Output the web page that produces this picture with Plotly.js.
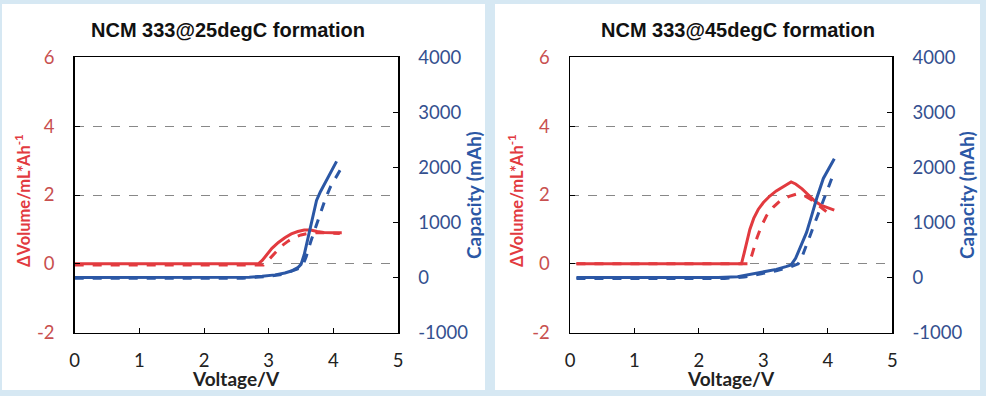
<!DOCTYPE html>
<html>
<head>
<meta charset="utf-8">
<script src="https://cdn.plot.ly/plotly-3.0.1.min.js"></script>
<style>html,body{margin:0;padding:0;background:#d6e8f3;}</style>
</head>
<body>
<div id="chart" style="width:986px;height:396px;"></div>
<script>
// ---- Data ----
const panelTitles = ["NCM 333@25degC formation", "NCM 333@45degC formation"];
const xTickVals = [0, 1, 2, 3, 4, 5];
const yLeftTickVals = [-2, 0, 2, 4, 6];
const yLeftTickText = ["-2", "0", "2", "4", "6"];
const yRightTickVals = [-1000, 0, 1000, 2000, 3000, 4000];
const yRightTickText = ["-1000", "0", "1000", "2000", "3000", "4000"];

// 25 degC panel
const v25RedSolid  = [0, 2.84, 2.9, 2.97, 3.05, 3.15, 3.25, 3.35, 3.45, 3.55, 3.65, 3.75, 3.85, 4.0, 4.13];
const dv25RedSolid = [0, 0, 0.1, 0.25, 0.45, 0.62, 0.76, 0.87, 0.94, 0.98, 0.98, 0.94, 0.91, 0.9, 0.9];
const v25RedDash   = [0, 2.92, 2.98, 3.05, 3.12, 3.2, 3.3, 3.4, 3.5, 3.6, 3.75, 3.9, 4.1];
const dv25RedDash  = [-0.03, -0.03, 0.08, 0.22, 0.38, 0.52, 0.66, 0.77, 0.84, 0.88, 0.91, 0.9, 0.88];
const v25BlueSolid = [0, 2.5, 2.7, 2.9, 3.1, 3.25, 3.35, 3.45, 3.5, 3.55, 3.62, 3.68, 3.74, 3.8, 3.88, 3.97, 4.05];
const c25BlueSolid = [0, 0, 8, 25, 50, 85, 120, 180, 240, 420, 760, 1100, 1400, 1560, 1740, 1930, 2110];
const v25BlueDash  = [0, 2.6, 2.8, 3.0, 3.2, 3.35, 3.45, 3.52, 3.58, 3.65, 3.72, 3.8, 3.88, 3.96, 4.04, 4.11];
const c25BlueDash  = [-10, -10, 5, 22, 55, 110, 160, 200, 380, 650, 900, 1190, 1440, 1660, 1830, 1960];

// 45 degC panel
const v45RedSolid  = [0.1, 2.66, 2.7, 2.74, 2.79, 2.85, 2.92, 3.0, 3.1, 3.2, 3.3, 3.43, 3.5, 3.6, 3.7, 3.8, 3.9, 4.0, 4.1];
const dv45RedSolid = [0, 0, 0.3, 0.65, 1.0, 1.32, 1.58, 1.78, 1.97, 2.12, 2.24, 2.38, 2.32, 2.18, 2.0, 1.82, 1.7, 1.62, 1.56];
const v45RedDash   = [0.1, 2.77, 2.8, 2.84, 2.9, 2.97, 3.05, 3.15, 3.26, 3.4, 3.52, 3.62, 3.73, 3.83, 3.93, 4.08];
const dv45RedDash  = [0, 0, 0.12, 0.38, 0.75, 1.1, 1.4, 1.64, 1.83, 1.96, 2.03, 2.0, 1.88, 1.74, 1.58, 1.36];
const v45BlueSolid = [0.1, 2.3, 2.6, 2.94, 3.2, 3.35, 3.43, 3.5, 3.58, 3.67, 3.75, 3.83, 3.93, 4.02, 4.1];
const c45BlueSolid = [0, 0, 15, 90, 150, 200, 230, 350, 560, 820, 1130, 1450, 1800, 2000, 2160];
const v45BlueDash  = [0.1, 2.4, 2.7, 2.94, 3.2, 3.4, 3.54, 3.6, 3.66, 3.73, 3.8, 3.88, 3.98, 4.08];
const c45BlueDash  = [-15, -15, 10, 65, 125, 185, 250, 380, 550, 780, 1000, 1240, 1530, 1860];

// ---- Styling ----
const W = 986, H = 396;
const RED = '#e23a3f', BLUE = '#2b57a5';
const RED_TXT = '#c8504f', BLUE_TXT = '#34508f';
const px = x => x / W, py = y => 1 - y / H;

function line(x, y, xa, ya, color, dash) {
  return {x: x, y: y, xaxis: xa, yaxis: ya, type: 'scatter', mode: 'lines',
    line: {color: color, width: 3, dash: dash, shape: 'linear'},
    hoverinfo: 'skip', showlegend: false};
}

const traces = [
  line(v25RedSolid, dv25RedSolid, 'x', 'y', RED, 'solid'),
  line(v25RedDash, dv25RedDash, 'x', 'y', RED, 'dash'),
  line(v25BlueSolid, c25BlueSolid, 'x', 'y2', BLUE, 'solid'),
  line(v25BlueDash, c25BlueDash, 'x', 'y2', BLUE, 'dash'),
  line(v45RedSolid, dv45RedSolid, 'x2', 'y3', RED, 'solid'),
  line(v45RedDash, dv45RedDash, 'x2', 'y3', RED, 'dash'),
  line(v45BlueSolid, c45BlueSolid, 'x2', 'y4', BLUE, 'solid'),
  line(v45BlueDash, c45BlueDash, 'x2', 'y4', BLUE, 'dash')
];

const tickFont = (c) => ({family: 'Lato, sans-serif', size: 18.5, color: c});
const yDom = [py(332.7), py(57.3)];

function xAxis(d0, d1, anchor) {
  return {domain: [px(d0), px(d1)], anchor: anchor, range: [0, 5], tickvals: xTickVals,
    ticks: 'inside', ticklen: 5, tickcolor: '#000', showline: true, linecolor: '#000', linewidth: 1.5,
    mirror: true, showgrid: false, zeroline: false, tickfont: tickFont('#222'), ticklabelstandoff: 11,
    fixedrange: true};
}
function yLeft(anchor) {
  return {domain: yDom, anchor: anchor, range: [-2, 6], tickvals: yLeftTickVals, ticktext: yLeftTickText,
    ticks: 'inside', ticklen: 5, tickcolor: '#000', showline: true, linecolor: '#000', linewidth: 1.5,
    mirror: true, showgrid: true, gridcolor: '#888', griddash: 'dash', gridwidth: 1, zeroline: false,
    tickfont: tickFont(RED_TXT), ticklabelstandoff: 15, fixedrange: true};
}
function yRight(over, anchor) {
  return {overlaying: over, side: 'right', anchor: anchor, range: [-1000, 4000],
    tickvals: yRightTickVals, ticktext: yRightTickText,
    ticks: 'inside', ticklen: 5, tickcolor: '#000', showline: true, linecolor: '#000', linewidth: 1.5,
    showgrid: false, zeroline: false, tickfont: tickFont(BLUE_TXT), ticklabelstandoff: 15, fixedrange: true};
}

function ann(text, x, y, size, color, family, angle) {
  return {text: text, x: px(x), y: py(y), xref: 'paper', yref: 'paper', showarrow: false,
    xanchor: 'center', yanchor: 'middle', textangle: angle || 0,
    font: {family: family, size: size, color: color}};
}

const titleFam = '"Liberation Sans", Arial, sans-serif';
const axFam = 'Lato, sans-serif';
const yTitle = '<b>ΔVolume/mL*Ah<sup>-1</sup></b>';

const layout = {
  width: W, height: H, margin: {l: 0, r: 0, t: 0, b: 0},
  paper_bgcolor: '#d6e8f3', plot_bgcolor: '#ffffff',
  showlegend: false,
  xaxis: xAxis(74.7, 398, 'y'),
  yaxis: yLeft('x'),
  yaxis2: yRight('y', 'x'),
  xaxis2: xAxis(570, 892.3, 'y3'),
  yaxis3: yLeft('x2'),
  yaxis4: yRight('y3', 'x2'),
  shapes: [
    {type: 'rect', xref: 'paper', yref: 'paper', x0: px(2), x1: px(485), y0: py(390), y1: py(4),
      fillcolor: '#ffffff', line: {width: 0}, layer: 'below'},
    {type: 'rect', xref: 'paper', yref: 'paper', x0: px(495), x1: px(980), y0: py(390), y1: py(4),
      fillcolor: '#ffffff', line: {width: 0}, layer: 'below'}
  ],
  annotations: [
    ann('<b>' + panelTitles[0] + '</b>', 227.5, 30.5, 20, '#111', titleFam),
    ann('<b>' + panelTitles[1] + '</b>', 738, 30.5, 20, '#111', titleFam),
    ann('<b>Voltage/V</b>', 236, 378.5, 19, '#222', axFam),
    ann('<b>Voltage/V</b>', 730.5, 378.5, 19, '#222', axFam),
    ann(yTitle, 23, 201, 16.5, RED, axFam, -90),
    ann(yTitle, 516, 201, 16.5, RED, axFam, -90),
    ann('<b>Capacity (mAh)</b>', 473, 195, 19, BLUE, axFam, -90),
    ann('<b>Capacity (mAh)</b>', 966, 195, 19, BLUE, axFam, -90)
  ]
};

Plotly.newPlot('chart', traces, layout, {displayModeBar: false, staticPlot: true});
</script>
</body>
</html>
